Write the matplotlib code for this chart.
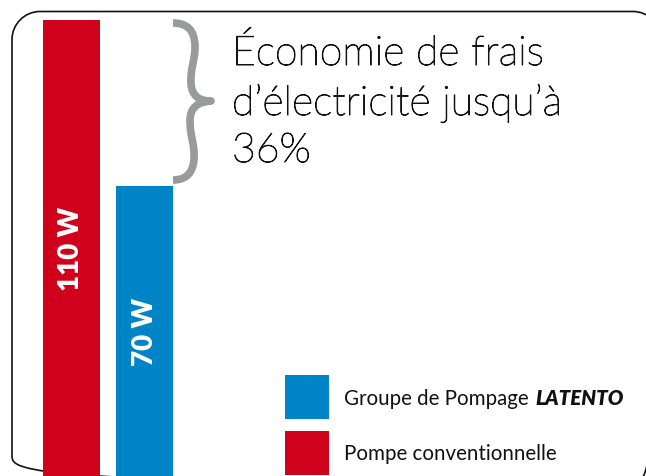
import matplotlib
matplotlib.use("Agg")
import matplotlib.pyplot as plt
from matplotlib.patches import Rectangle, PathPatch
from matplotlib.path import Path
import matplotlib.patheffects as pe

# ---- data ----
categories = ["Pompe conventionnelle", "Groupe de Pompage LATENTO"]
watts = [110, 70]
bar_labels = ["110 W", "70 W"]
colors = ["#d0011b", "#0084c8"]
title_lines = ["Économie de frais", "d’électricité jusqu’à", "36%"]
legend_main = ["Groupe de Pompage", "Pompe conventionnelle"]
legend_bold = ["LATENTO", ""]
legend_colors = ["#0084c8", "#d0011b"]

W, H = 646, 477
fig = plt.figure(figsize=(W / 100, H / 100), dpi=100)
fig.patch.set_facecolor("white")

# overlay axes in pixel coordinates (y down)
bg = fig.add_axes([0, 0, 1, 1])
bg.set_xlim(0, W)
bg.set_ylim(H, 0)
bg.set_autoscale_on(False)
bg.axis("off")

# rounded border
x0, y0, x1, y1, r = 12, 12.5, 661, 485, 28
k = 0.45
bverts = [(x0 + r, y0), (x1 - r, y0),
          (x1 - r * k, y0), (x1, y0 + r * k), (x1, y0 + r),
          (x1, y1 - r),
          (x1, y1 - r * k), (x1 - r * k, y1), (x1 - r, y1),
          (x0 + r, y1),
          (x0 + r * k, y1), (x0, y1 - r * k), (x0, y1 - r),
          (x0, y0 + r),
          (x0, y0 + r * k), (x0 + r * k, y0), (x0 + r, y0)]
bcodes = ([Path.MOVETO, Path.LINETO] + [Path.CURVE4] * 3 + [Path.LINETO]
          + [Path.CURVE4] * 3 + [Path.LINETO] + [Path.CURVE4] * 3 + [Path.LINETO]
          + [Path.CURVE4] * 3)
bg.add_patch(PathPatch(Path(bverts, bcodes), fill=False, ec="#111111", lw=1.2))

# brace
verts = [(173, 24),
         (186, 24), (195, 30), (195, 48),
         (195, 62), (190, 70), (191, 85),
         (192, 96), (198, 102), (211, 102),
         (198, 103), (190, 108), (190, 122),
         (190, 138), (195, 145), (194, 160),
         (193, 175), (185, 181), (173, 181)]
codes = [Path.MOVETO] + [Path.CURVE4] * 18
bg.add_patch(PathPatch(Path(verts, codes), fill=False, ec="#999a9c", lw=5.5,
                       capstyle="butt", joinstyle="round"))

# title text
baselines = [66, 116, 163]
for line, yb in zip(title_lines, baselines):
    bg.text(232, yb, line, fontsize=29.5, family="Lato", weight="light",
            color="#111111", ha="left", va="baseline",
            path_effects=[pe.withStroke(linewidth=0.7, foreground="#111111")])

# bars
ax = fig.add_axes([43 / W, 0, 130 / W, 456 / H])
ax.patch.set_alpha(0)
ax.bar(range(len(watts)), watts, width=0.78, color=colors)
ax.set_xlim(-0.39, 1.39)
ax.set_ylim(0, 110)
ax.axis("off")
for i, (v, lab) in enumerate(zip(watts, bar_labels)):
    ax.text(i, v / 2, lab, rotation=90, ha="center", va="center", color="white",
            fontsize=20, family="Lato", weight="heavy")

# legend
sw_tops = [376, 432]
text_base = [405, 460]
for c, top, yb, main, bold in zip(legend_colors, sw_tops, text_base, legend_main, legend_bold):
    bg.add_patch(Rectangle((285, top), 44, 44, color=c, lw=0))
    t = bg.text(344, yb, main, fontsize=14.8, family="Lato", color="#111111",
                ha="left", va="baseline")
    if bold:
        fig.canvas.draw()
        ext = t.get_window_extent(renderer=fig.canvas.get_renderer())
        bg.text(ext.x1 + 7, yb, bold, fontsize=14.8, family="Lato", weight="heavy",
                style="italic", color="#111111", ha="left", va="baseline")

fig.savefig("out.png", dpi=100)
